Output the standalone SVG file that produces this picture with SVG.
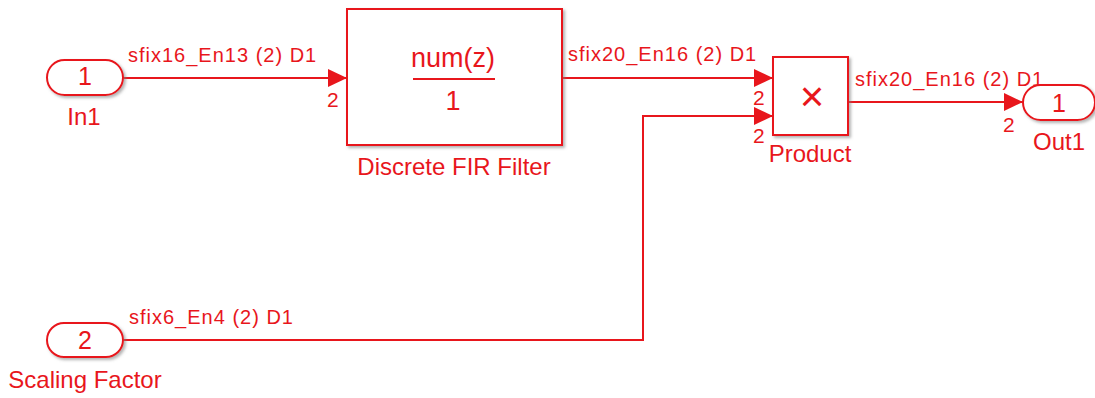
<svg xmlns="http://www.w3.org/2000/svg" width="1095" height="398" viewBox="0 0 1095 398">
<defs>
<style>
.blk{fill:#fff;stroke:#e8161c;stroke-width:2;filter:url(#sh)}
.ln{fill:none;stroke:#e8161c;stroke-width:2}
text{font-family:"Liberation Sans",Arial,sans-serif;fill:#e8161c}
.nm{font-size:24px;text-anchor:middle}
.pn{font-size:25px;text-anchor:middle}
.el{font-size:20px;letter-spacing:1px}
.pl{font-size:21px}
</style>
<filter id="sh" x="-10%" y="-10%" width="125%" height="130%">
<feDropShadow dx="2" dy="2" stdDeviation="1.5" flood-color="#808080" flood-opacity="0.6"/>
</filter>
<marker id="ar" markerUnits="userSpaceOnUse" markerWidth="20" markerHeight="20" viewBox="-19 -10 20 20" refX="0" refY="0" orient="auto">
<path d="M0,0 L-19,-9 L-19,9 Z" fill="#e8161c"/>
</marker>
</defs>
<g id="connectors">
<path class="ln" d="M123,78 H347" marker-end="url(#ar)"/>
<path class="ln" d="M562,78 H773" marker-end="url(#ar)"/>
<path class="ln" d="M123,340 H643 V116 H773" marker-end="url(#ar)"/>
<path class="ln" d="M848,102 H1023" marker-end="url(#ar)"/>
<text class="el" x="128" y="62">sfix16_En13 (2) D1</text>
<text class="el" x="568" y="61">sfix20_En16 (2) D1</text>
<text class="el" x="855" y="86">sfix20_En16 (2) D1</text>
<text class="el" x="129" y="324">sfix6_En4 (2) D1</text>
<text class="pl" x="327" y="107">2</text>
<text class="pl" x="753" y="105">2</text>
<text class="pl" x="753" y="143">2</text>
<text class="pl" x="1003" y="132">2</text>
</g>
<g id="In1">
<rect class="blk" x="47" y="60" width="76" height="35" rx="17.5"/>
<text class="pn" x="85" y="85">1</text>
<text class="nm" x="84" y="125">In1</text>
</g>
<g id="ScalingFactor">
<rect class="blk" x="47" y="323" width="76" height="34" rx="17"/>
<text class="pn" x="85" y="349">2</text>
<text class="nm" x="85" y="388">Scaling Factor</text>
</g>
<g id="DiscreteFIRFilter">
<rect class="blk" x="347" y="9" width="215" height="136"/>
<text x="453" y="67" style="font-size:27px;text-anchor:middle">num(z)</text>
<line class="ln" x1="413" y1="79" x2="495" y2="79"/>
<text x="453" y="110" style="font-size:27px;text-anchor:middle">1</text>
<text class="nm" x="454" y="175">Discrete FIR Filter</text>
</g>
<g id="Product">
<rect class="blk" x="773" y="57" width="75" height="78"/>
<text x="812" y="111" style="font-size:42px;text-anchor:middle">×</text>
<text class="nm" x="810" y="162">Product</text>
</g>
<g id="Out1">
<rect class="blk" x="1023" y="85" width="72" height="35" rx="17.5"/>
<text class="pn" x="1059" y="112">1</text>
<text class="nm" x="1059" y="150">Out1</text>
</g>
</svg>
